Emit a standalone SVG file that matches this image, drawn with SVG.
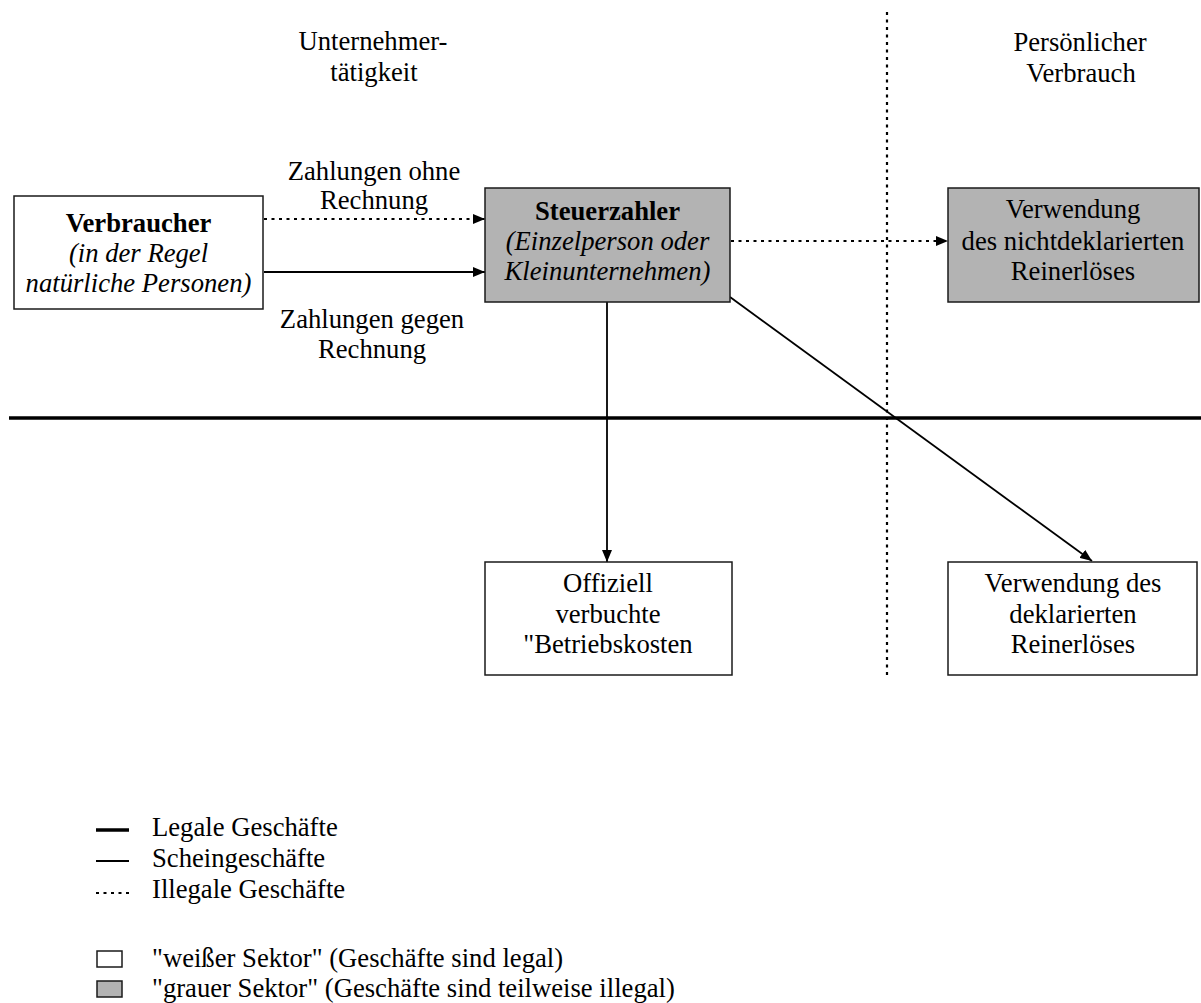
<svg xmlns="http://www.w3.org/2000/svg" width="1201" height="1003" viewBox="0 0 1201 1003">
<style>
text{font-family:"Liberation Serif","Times New Roman",serif;font-size:26.67px;fill:#000}
.c{text-anchor:middle}
.b{font-weight:bold}
.i{font-style:italic}
.box{stroke:#1a1a1a;stroke-width:1.5}
.w{fill:#fff}
.g{fill:#b3b3b3}
.ln{stroke:#000;stroke-width:1.8;fill:none}
.dot{stroke:#000;stroke-width:2.2;fill:none;stroke-dasharray:3 4.5}
.thick{stroke:#000;stroke-width:3.5;fill:none}
</style>
<defs>
<marker id="ah" viewBox="0 0 12 10" refX="12" refY="5" markerWidth="12" markerHeight="10" markerUnits="userSpaceOnUse" orient="auto">
<path d="M0,0 L12,5 L0,10 Z" fill="#000"/>
</marker>
</defs>
<g id="headers">
<text class="c" x="373" y="50">Unternehmer-</text>
<text class="c" x="374" y="81">tätigkeit</text>
<text class="c" x="1080" y="51">Persönlicher</text>
<text class="c" x="1081" y="82">Verbrauch</text>
</g>
<g id="connectors">
<line class="thick" x1="9" y1="418" x2="1201" y2="418"/>
<line class="dot" x1="887" y1="12" x2="887" y2="676"/>
<line class="dot" x1="264" y1="219" x2="485" y2="219" marker-end="url(#ah)"/>
<line class="ln" x1="264" y1="272" x2="485" y2="272" marker-end="url(#ah)"/>
<line class="dot" x1="731" y1="241" x2="948" y2="241" marker-end="url(#ah)"/>
<line class="ln" x1="607" y1="302" x2="607" y2="562" marker-end="url(#ah)"/>
<line class="ln" x1="730" y1="297" x2="1092" y2="561" marker-end="url(#ah)"/>
<text class="c" x="374" y="180">Zahlungen ohne</text>
<text class="c" x="374" y="209">Rechnung</text>
<text class="c" x="372" y="328">Zahlungen gegen</text>
<text class="c" x="372" y="358">Rechnung</text>
</g>
<g id="verbraucher">
<rect class="box w" x="14" y="196" width="249" height="113"/>
<text class="c b" x="138.5" y="232">Verbraucher</text>
<text class="c i" x="138.5" y="262">(in der Regel</text>
<text class="c i" x="138.5" y="292">natürliche Personen)</text>
</g>
<g id="steuerzahler">
<rect class="box g" x="485" y="188" width="245" height="114"/>
<text class="c b" x="607.5" y="220">Steuerzahler</text>
<text class="c i" x="607.5" y="250">(Einzelperson oder</text>
<text class="c i" x="607.5" y="280">Kleinunternehmen)</text>
</g>
<g id="nichtdeklariert">
<rect class="box g" x="948" y="188" width="251" height="114"/>
<text class="c" x="1073" y="218">Verwendung</text>
<text class="c" x="1073" y="250">des nichtdeklarierten</text>
<text class="c" x="1073" y="280">Reinerlöses</text>
</g>
<g id="offiziell">
<rect class="box w" x="485" y="562" width="247" height="113"/>
<text class="c" x="608" y="592">Offiziell</text>
<text class="c" x="608" y="623">verbuchte</text>
<text class="c" x="608" y="653">"Betriebskosten</text>
</g>
<g id="deklariert">
<rect class="box w" x="948" y="562" width="249" height="113"/>
<text class="c" x="1073" y="592">Verwendung des</text>
<text class="c" x="1073" y="623">deklarierten</text>
<text class="c" x="1073" y="653">Reinerlöses</text>
</g>
<g id="legend">
<line class="thick" x1="96" y1="830" x2="129" y2="830"/>
<line class="ln" x1="96" y1="861" x2="129" y2="861"/>
<line class="dot" x1="96" y1="893" x2="129" y2="893"/>
<text x="152" y="836">Legale Geschäfte</text>
<text x="152" y="867">Scheingeschäfte</text>
<text x="152" y="898">Illegale Geschäfte</text>
<rect class="box w" x="97" y="951" width="25" height="16"/>
<rect class="box g" x="97" y="981" width="25" height="16"/>
<text x="152" y="967">"weißer Sektor" (Geschäfte sind legal)</text>
<text x="152" y="997">"grauer Sektor" (Geschäfte sind teilweise illegal)</text>
</g>
</svg>
